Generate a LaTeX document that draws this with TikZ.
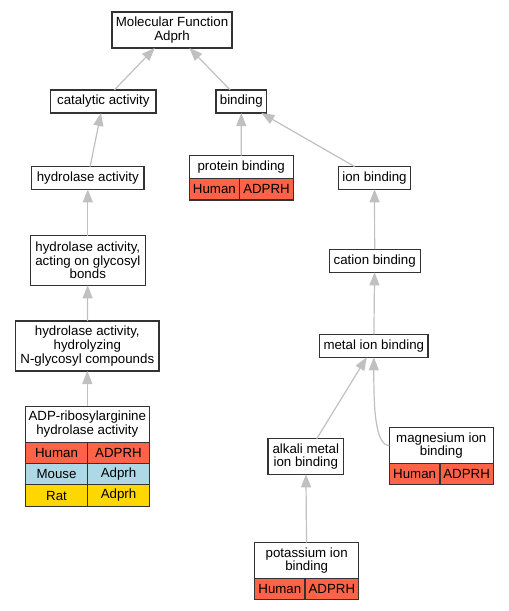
\documentclass[tikz,border=0pt]{standalone}
\usepackage{fontspec}
\setmainfont{Liberation Sans}
\usetikzlibrary{arrows.meta}
\definecolor{tomato}{HTML}{FF6347}
\definecolor{lightblue}{HTML}{ADD8E6}
\definecolor{gold}{HTML}{FFD700}
\definecolor{edgegray}{HTML}{C0C0C0}
\tikzset{
  term/.style={draw=black!80, line width=1.1pt, fill=white, align=center,
    inner sep=0pt, outer sep=0pt, font=\fontsize{13.3}{13.6}\selectfont},
  cell/.style={term, minimum height=21.3},
  human/.style={cell, fill=tomato},
  mouse/.style={cell, fill=lightblue},
  rat/.style={cell, fill=gold},
  isa/.style={draw=edgegray, line width=1.2pt, -{Triangle[length=13pt, width=10pt]}},
}
\begin{document}
\begin{tikzpicture}[x=1pt, y=-1pt]
    \useasboundingbox (0,0) rectangle (509,611);

    \node[term, minimum width=120, minimum height=36](mf) at (172.0, 30.0){Molecular Function\\Adprh};
    \node[term, minimum width=105.3, minimum height=23](cat) at (103.3, 101.5){catalytic activity};
    \node[term, minimum width=50.7, minimum height=23](bind) at (241.3, 101.5){binding};
    \node[term, minimum width=112.3, minimum height=22.7](hyd) at (87.8, 178.0){hydrolase activity};
    \node[term, minimum width=104.3, minimum height=23](prot) at (241.2, 167.2){protein binding};
    \node[human, minimum width=50.7, anchor=north west](protH) at (prot.south west){Human};
    \node[human, minimum width=53.6, anchor=north east](protG) at (prot.south east){ADPRH};
    \node[term, minimum width=72.3, minimum height=22.7](ion) at (374.5, 178.0){ion binding};
    \node[term, minimum width=115, minimum height=49.7](gly) at (87.8, 260.5){hydrolase activity,\\acting on glycosyl\\bonds};
    \node[term, minimum width=91.3, minimum height=23.3](cation) at (374.7, 260.7){cation binding};
    \node[term, minimum width=143.3, minimum height=50](nglyc) at (87.3, 346.0){hydrolase activity,\\hydrolyzing\\N-glycosyl compounds};
    \node[term, minimum width=108.3, minimum height=23](metal) at (373.8, 345.8){metal ion binding};
    \node[term, minimum width=124, minimum height=36](adp) at (87.3, 424.3){ADP-ribosylarginine\\hydrolase activity};
    \node[human, minimum width=62.4, anchor=north west](adpH) at (adp.south west){Human};
    \node[human, minimum width=61.6, anchor=north east](adpHg) at (adp.south east){ADPRH};
    \node[mouse, minimum width=62.4, anchor=north west](adpM) at (adpH.south west){Mouse};
    \node[mouse, minimum width=61.6, anchor=north east](adpMg) at (adpHg.south east){Adprh};
    \node[rat, minimum width=62.4, anchor=north west](adpR) at (adpM.south west){Rat};
    \node[rat, minimum width=61.6, anchor=north east](adpRg) at (adpMg.south east){Adprh};
    \node[term, minimum width=75.7, minimum height=35.6](alkali) at (305.8, 456.5){alkali metal\\ion binding};
    \node[term, minimum width=104, minimum height=35.6](mag) at (441.3, 445.5){magnesium ion\\binding};
    \node[human, minimum width=50.7, anchor=north west](magH) at (mag.south west){Human};
    \node[human, minimum width=53.3, anchor=north east](magG) at (mag.south east){ADPRH};
    \node[term, minimum width=104, minimum height=35.6](pot) at (306.7, 560.5){potassium ion\\binding};
    \node[human, minimum width=50.3, anchor=north west](potH) at (pot.south west){Human};
    \node[human, minimum width=53.7, anchor=north east](potG) at (pot.south east){ADPRH};

    \draw[isa] (cat) -- (mf);
    \draw[isa] (bind) -- (mf);
    \draw[isa] (hyd) -- (cat);
    \draw[isa] (prot) -- (bind);
    \draw[isa] (ion) -- (bind);
    \draw[isa] (gly) -- (hyd);
    \draw[isa] (cation) -- (ion);
    \draw[isa] (nglyc) -- (gly);
    \draw[isa] (metal) -- (cation);
    \draw[isa] (adp) -- (nglyc);
    \draw[isa] (alkali) -- (metal);
    \draw[isa] (mag.west) .. controls +(-15,0) and +(0,45) .. (metal.south);
    \draw[isa] (pot) -- (alkali);
  \end{tikzpicture}
\end{document}
